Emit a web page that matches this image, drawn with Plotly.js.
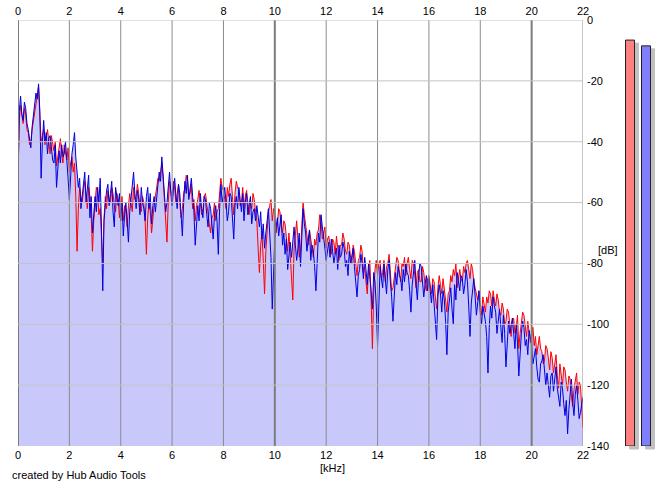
<!DOCTYPE html>
<html><head><meta charset="utf-8">
<script src="https://cdn.plot.ly/plotly-3.0.1.min.js"></script>
<style>html,body{margin:0;padding:0;background:#fff}#chart{width:665px;height:487px}</style>
</head><body><div id="chart"></div>
<script>
const freqStepKHz = 0.05;
const leftDB = [
 -52,-33,-28,-32,-34,-29,-31,-36,-37,-41,-40,-36,-33,-30,-27,-25,-22,-31,-40,-38,
 -36,-41,-39,-36,-40,-44,-38,-41,-43,-40,-48,-45,-42,-39,-44,-47,-41,-43,-46,-42,
 -50,-47,-45,-50,-47,-58,-76,-62,-55,-58,-60,-56,-53,-57,-62,-55,-58,-64,-76,-66,
 -60,-55,-57,-64,-62,-70,-80,-65,-58,-62,-56,-59,-60,-55,-57,-61,-63,-57,-59,-65,
 -62,-58,-66,-61,-63,-68,-61,-57,-60,-63,-55,-59,-58,-54,-57,-62,-63,-58,-60,-66,
 -77,-65,-60,-63,-70,-64,-61,-58,-55,-52,-53,-50,-47,-52,-58,-64,-73,-60,-53,-56,
 -58,-53,-55,-60,-57,-54,-60,-65,-62,-57,-55,-51,-53,-58,-57,-54,-62,-59,-66,-61,
 -59,-56,-60,-64,-62,-58,-57,-61,-63,-67,-70,-65,-64,-60,-66,-63,-62,-57,-52,-55,
 -56,-59,-62,-55,-58,-54,-52,-58,-64,-57,-53,-55,-56,-61,-60,-55,-62,-58,-56,-60,
 -64,-60,-62,-57,-59,-63,-66,-75,-83,-74,-70,-79,-90,-76,-68,-63,-61,-59,-66,-62,
 -64,-70,-67,-62,-63,-68,-70,-66,-67,-72,-76,-70,-78,-85,-92,-75,-69,-66,-72,-78,
 -76,-66,-60,-64,-67,-71,-74,-69,-72,-76,-78,-72,-74,-70,-69,-64,-66,-72,-70,-68,
 -75,-72,-71,-75,-77,-72,-73,-77,-71,-75,-79,-74,-74,-70,-72,-76,-77,-73,-74,-78,
 -80,-74,-76,-80,-84,-79,-78,-74,-76,-83,-81,-86,-90,-82,-79,-92,-108,-90,-82,-79,
 -84,-80,-79,-85,-83,-79,-86,-81,-80,-77,-84,-89,-88,-84,-82,-78,-79,-83,-86,-80,
 -81,-78,-84,-80,-78,-82,-85,-79,-80,-84,-88,-83,-82,-86,-86,-81,-83,-87,-89,-85,
 -84,-87,-90,-85,-86,-91,-95,-88,-84,-87,-90,-85,-88,-92,-96,-90,-89,-84,-86,-82,
 -84,-80,-88,-84,-82,-85,-86,-81,-83,-80,-79,-82,-85,-80,-82,-86,-88,-90,-92,-89,
 -93,-97,-91,-94,-96,-91,-93,-89,-90,-94,-89,-92,-94,-90,-92,-96,-97,-93,-95,-100,
 -99,-95,-96,-100,-104,-99,-98,-103,-101,-97,-108,-103,-100,-96,-97,-101,-104,-99,-102,-106,
 -104,-101,-107,-104,-110,-106,-104,-108,-109,-113,-112,-107,-108,-111,-115,-109,-111,-116,-113,-110,
 -117,-121,-113,-116,-120,-114,-115,-119,-122,-117,-118,-124,-127,-121,-119,-116,-123,-119,-120,-127,
 -134
];
const rightDB = [
 -54,-30,-25,-31,-33,-27,-29,-34,-36,-39,-42,-35,-31,-28,-24,-26,-21,-30,-52,-40,
 -33,-40,-37,-44,-39,-38,-42,-46,-47,-41,-55,-49,-43,-47,-41,-45,-44,-40,-48,-52,
 -59,-49,-44,-41,-37,-45,-49,-55,-52,-62,-58,-53,-50,-60,-56,-51,-65,-58,-70,-62,
 -58,-63,-55,-60,-52,-68,-89,-66,-60,-56,-54,-61,-57,-53,-63,-68,-55,-58,-61,-57,
 -66,-60,-71,-64,-60,-66,-73,-63,-58,-55,-50,-57,-62,-56,-59,-64,-55,-60,-62,-66,
 -58,-55,-62,-57,-67,-61,-58,-63,-57,-54,-50,-53,-45,-51,-56,-63,-60,-55,-50,-57,
 -61,-56,-52,-58,-62,-54,-57,-64,-71,-60,-53,-57,-51,-59,-55,-52,-58,-63,-74,-65,
 -61,-66,-57,-62,-65,-58,-59,-64,-68,-60,-62,-67,-72,-64,-61,-66,-77,-62,-54,-60,
 -58,-55,-60,-66,-63,-57,-58,-64,-72,-61,-58,-62,-55,-59,-63,-57,-66,-60,-57,-64,
 -61,-58,-67,-63,-62,-66,-61,-64,-68,-63,-72,-67,-75,-70,-66,-62,-70,-78,-95,-80,
 -72,-68,-65,-71,-68,-64,-74,-70,-77,-72,-82,-76,-73,-78,-71,-68,-74,-79,-75,-70,
 -81,-70,-62,-67,-70,-76,-72,-69,-79,-74,-76,-81,-89,-77,-70,-73,-64,-68,-71,-75,
 -79,-76,-73,-78,-72,-76,-80,-77,-75,-82,-74,-78,-77,-73,-75,-81,-79,-84,-76,-80,
 -78,-75,-81,-86,-91,-84,-82,-77,-80,-85,-78,-82,-87,-80,-84,-89,-95,-83,-86,-94,
 -107,-90,-81,-85,-88,-80,-84,-90,-82,-79,-86,-91,-99,-88,-83,-87,-81,-84,-85,-89,
 -82,-86,-80,-83,-84,-89,-96,-87,-82,-79,-87,-92,-84,-80,-81,-85,-91,-87,-84,-89,
 -85,-89,-93,-87,-94,-98,-105,-91,-87,-90,-96,-89,-92,-99,-110,-96,-92,-88,-95,-100,
 -87,-92,-83,-86,-89,-84,-85,-90,-87,-82,-86,-94,-104,-93,-88,-85,-91,-97,-93,-89,
 -96,-100,-94,-97,-99,-104,-116,-101,-94,-98,-91,-94,-96,-103,-99,-95,-101,-106,-97,-103,
 -114,-104,-99,-103,-100,-98,-103,-108,-100,-106,-117,-108,-103,-99,-101,-107,-105,-110,-102,-104,
 -107,-113,-111,-108,-114,-118,-119,-113,-112,-110,-115,-120,-116,-121,-124,-117,-116,-122,-118,-114,
 -121,-124,-127,-119,-121,-126,-130,-125,-136,-128,-122,-118,-126,-130,-123,-120,-125,-131,-129,-126,
 -124
];
const freqKHz = leftDB.map((_, i) => +(i * freqStepKHz).toFixed(2));
const xTickVals = [0,2,4,6,8,10,12,14,16,18,20,22];
const yTickVals = [0,-20,-40,-60,-80,-100,-120,-140];
const yTickText = ['0','-20','-40','-60','-80','-100','-120','-140'];
const majorFreqs = [0,10,20];
const meterChannels = ['L','R'];
const meterLevelsDB = [-6.6,-8.5];
const meterColors = ['#ff8080','#8080ff'];
const floorDB = -140;
const xMax = 22;

const fillColor = '#c8c8fa';
function baseline(){ return {x:[0,xMax], y:[floorDB,floorDB], mode:'lines', line:{width:0}, hoverinfo:'skip', showlegend:false}; }
const meterHeights = meterLevelsDB.map(v => v - floorDB);

const traces = [
  baseline(),
  {x:freqKHz, y:leftDB, mode:'none', fill:'tonexty', fillcolor:fillColor, hoverinfo:'skip'},
  baseline(),
  {x:freqKHz, y:rightDB, mode:'none', fill:'tonexty', fillcolor:fillColor, hoverinfo:'skip'},
  {x:freqKHz, y:leftDB, mode:'lines', line:{color:'#ff0000', width:1}},
  {x:freqKHz, y:rightDB, mode:'lines', line:{color:'#0000e0', width:1}},
  {x:[0,xMax], y:[floorDB,floorDB], xaxis:'x4', yaxis:'y', mode:'lines', line:{width:0}, hoverinfo:'skip'},
  {type:'bar', x:meterChannels, y:meterHeights, base:floorDB, xaxis:'x2', yaxis:'y2',
   marker:{color:'#c0c0c0', line:{color:'#c0c0c0', width:1}}, hoverinfo:'skip'},
  {type:'bar', x:meterChannels, y:meterHeights, base:floorDB, xaxis:'x3', yaxis:'y3',
   marker:{color:meterColors, line:{color:'#202020', width:1}}, hoverinfo:'skip'}
];

const shapes = [];
xTickVals.forEach(v => {
  const major = majorFreqs.includes(v);
  shapes.push({type:'line', xref:'x', yref:'y', x0:v, x1:v, y0:floorDB, y1:0, layer:'above',
    line:{color:major ? '#7c7c7c' : '#8c8c8c', width:major ? 2 : 1}});
});
yTickVals.filter(v => v > floorDB).forEach(v => {
  shapes.push({type:'line', xref:'x', yref:'y', x0:0, x1:xMax, y0:v, y1:v, layer:'above',
    line:{color:'#c4c4c4', width:1}});
});

const axFont = {family:'Liberation Sans, Arial, sans-serif', size:11, color:'#000'};
const layout = {
  width:665, height:487,
  margin:{l:18, r:6, t:20, b:36},
  paper_bgcolor:'#ffffff', plot_bgcolor:'rgba(0,0,0,0)',
  showlegend:false, font:axFont, bargap:0.44,
  xaxis:{domain:[0,0.88144], range:[0,xMax], tickvals:xTickVals, ticks:'', showgrid:false,
    zeroline:false, showline:false, anchor:'y', tickfont:axFont, fixedrange:true, ticklabelstandoff:1},
  xaxis4:{overlaying:'x', side:'top', anchor:'y', range:[0,xMax], tickvals:xTickVals, ticks:'',
    showgrid:false, zeroline:false, showline:false, tickfont:axFont, fixedrange:true, ticklabelstandoff:2},
  yaxis:{domain:[0.0116,1], range:[floorDB,0], side:'right', anchor:'x', tickvals:yTickVals,
    ticktext:yTickText, ticks:'', showgrid:false, zeroline:false, showline:false, tickfont:axFont,
    fixedrange:true, ticklabelstandoff:3},
  xaxis2:{domain:[0.94852,0.99844], range:[-0.5,1.5], visible:false, anchor:'y2', fixedrange:true},
  yaxis2:{domain:[0,0.99304], range:[-140.66,0], visible:false, anchor:'x2', fixedrange:true},
  xaxis3:{domain:[0.94228,0.99220], range:[-0.5,1.5], visible:false, anchor:'y3', fixedrange:true},
  yaxis3:{domain:[0.0116,1], range:[floorDB,0], visible:false, anchor:'x3', fixedrange:true},
  shapes:shapes,
  annotations:[
    {text:'[dB]', xref:'paper', yref:'paper', x:0.9205, y:0.4664, showarrow:false, xanchor:'center', yanchor:'middle', font:axFont},
    {text:'[kHz]', xref:'paper', yref:'paper', x:0.4899, y:-0.0394, showarrow:false, xanchor:'center', yanchor:'middle', font:axFont},
    {text:'created by Hub Audio Tools', xref:'paper', yref:'paper', x:-0.0125, y:-0.0557, showarrow:false, xanchor:'left', yanchor:'middle', font:axFont}
  ]
};
Plotly.newPlot('chart', traces, layout, {displayModeBar:false, staticPlot:true});
</script></body></html>
